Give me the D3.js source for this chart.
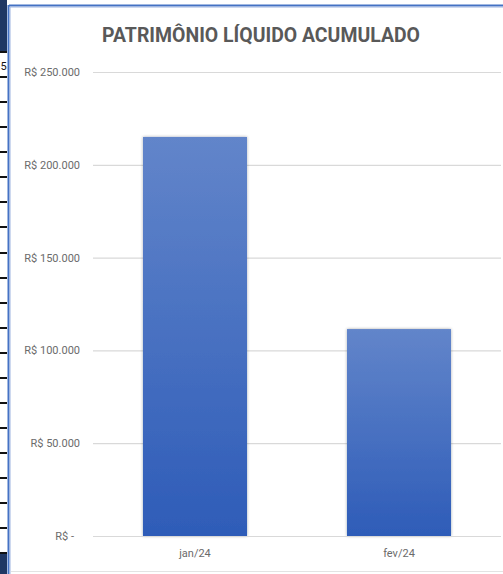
<!DOCTYPE html>
<html>
<head>
<meta charset="utf-8">
<script src="https://cdn.jsdelivr.net/npm/d3@7"></script>
<style>
  body { margin: 0; background: #fff; }
  svg { display: block; font-family: Roboto, "Open Sans", sans-serif; }
</style>
</head>
<body>
<div id="chart"></div>
<script>
  // data
  var months = ["jan/24", "fev/24"]
  var patrimonio = [215000, 111500]
  var tickValues = [0, 50000, 100000, 150000, 200000, 250000]
  var tickLabels = ["R$ -", "R$ 50.000", "R$ 100.000", "R$ 150.000", "R$ 200.000", "R$ 250.000"]
  var title = "PATRIMÔNIO LÍQUIDO ACUMULADO"

  var W = 503, H = 574

  var svg = d3.select("#chart").append("svg")
      .attr("width", W)
      .attr("height", H)

  var defs = svg.append("defs")

  var grad = defs.append("linearGradient")
      .attr("id", "barGrad")
      .attr("x1", 0).attr("y1", 0).attr("x2", 0).attr("y2", 1)
  grad.append("stop").attr("offset", "0%").attr("stop-color", "#6285ca")
  grad.append("stop").attr("offset", "100%").attr("stop-color", "#2e5cb8")

  var shadow = defs.append("filter")
      .attr("id", "shadow")
      .attr("x", "-20%").attr("y", "-10%").attr("width", "140%").attr("height", "120%")
  shadow.append("feDropShadow")
      .attr("dx", 0).attr("dy", 0)
      .attr("stdDeviation", 1.6)
      .attr("flood-color", "#000")
      .attr("flood-opacity", 0.35)

  // spreadsheet bits peeking out on the left
  svg.append("rect").attr("x", 0).attr("y", 0).attr("width", 7).attr("height", 51).attr("fill", "#1f3763")
  svg.append("rect").attr("x", 0).attr("y", 51).attr("width", 7).attr("height", 2).attr("fill", "#111")
  svg.append("text").attr("x", 0.5).attr("y", 70).attr("font-size", 11).attr("fill", "#111").text("5")
  var rowLines = d3.range(77, 540, 25.08)
  svg.selectAll(".rowline")
      .data(rowLines)
    .enter().append("rect")
      .attr("class", "rowline")
      .attr("x", 0).attr("width", 7)
      .attr("y", function(d) { return Math.round(d) - 1 })
      .attr("height", 2)
      .attr("fill", "#111")
  svg.append("rect").attr("x", 0).attr("y", 553).attr("width", 7).attr("height", 21).attr("fill", "#1f3763")
  svg.append("rect").attr("x", 0).attr("y", 552).attr("width", 7).attr("height", 2).attr("fill", "#111")

  // chart area with the blue selection border
  svg.append("rect").attr("x", 10).attr("y", 7).attr("width", W - 10).attr("height", H - 7).attr("fill", "#fff")
  svg.append("line").attr("x1", 9).attr("x2", W).attr("y1", 5.5).attr("y2", 5.5)
      .attr("stroke", "#4472c4").attr("stroke-width", 2)
  svg.append("line").attr("x1", 10).attr("x2", W).attr("y1", 7).attr("y2", 7)
      .attr("stroke", "#9db4e0").attr("stroke-width", 1)
  svg.append("line").attr("x1", 8.5).attr("x2", 8.5).attr("y1", 5).attr("y2", H)
      .attr("stroke", "#4472c4").attr("stroke-width", 2)
  svg.append("line").attr("x1", 10).attr("x2", 10).attr("y1", 7).attr("y2", H)
      .attr("stroke", "#9db4e0").attr("stroke-width", 1)
  svg.append("line").attr("x1", 11).attr("x2", W).attr("y1", 571.5).attr("y2", 571.5)
      .attr("stroke", "#e3e3e3").attr("stroke-width", 1)

  // title
  svg.append("text")
      .attr("x", 102).attr("y", 42)
      .attr("font-size", 19.5)
      .attr("font-weight", "bold")
      .attr("fill", "#595959")
      .attr("textLength", 318)
      .attr("lengthAdjust", "spacingAndGlyphs")
      .text(title)

  // scales
  var xScale = d3.scaleBand()
      .domain(months)
      .range([93, 501])
      .paddingInner(0.49)
      .paddingOuter(0.245)

  var yScale = d3.scaleLinear()
      .domain([0, 250000])
      .range([536, 72])

  // gridlines
  svg.append("g")
      .attr("class", "grid")
      .attr("transform", "translate(93,0)")
      .call(d3.axisLeft(yScale).tickValues(tickValues).tickSize(-408).tickFormat(""))
      .call(function(g) { g.select(".domain").remove() })
      .call(function(g) { g.selectAll("line").attr("stroke", "#d9d9d9").attr("stroke-width", 1.2) })

  // y labels
  var yAxis = d3.axisLeft(yScale)
      .tickValues(tickValues)
      .tickSize(0)
      .tickPadding(0)
      .tickFormat(function(d, i) { return tickLabels[i] })

  svg.append("g")
      .attr("class", "y axis")
      .attr("transform", "translate(80,0)")
      .call(yAxis)
      .call(function(g) { g.select(".domain").remove() })
      .call(function(g) {
        g.selectAll("text")
          .attr("font-family", "Roboto, sans-serif")
          .attr("font-size", 11)
          .attr("fill", "#6b6b6b")
          .attr("dx", function(d) { return d === 0 ? -6 : 0 })
      })

  // bars
  svg.selectAll(".bar")
      .data(patrimonio)
    .enter().append("rect")
      .attr("class", "bar")
      .attr("x", function(d, i) { return xScale(months[i]) })
      .attr("width", xScale.bandwidth())
      .attr("y", function(d) { return yScale(d) })
      .attr("height", function(d) { return yScale(0) - yScale(d) })
      .attr("fill", "url(#barGrad)")
      .attr("filter", "url(#shadow)")

  // baseline
  svg.append("line")
      .attr("x1", 93).attr("x2", 501)
      .attr("y1", yScale(0) + 0.5).attr("y2", yScale(0) + 0.5)
      .attr("stroke", "#d9d9d9").attr("stroke-width", 1.2)

  // x labels
  var xAxis = d3.axisBottom(xScale).tickSize(0).tickPadding(0)
  svg.append("g")
      .attr("class", "x axis")
      .attr("transform", "translate(0,549)")
      .call(xAxis)
      .call(function(g) { g.select(".domain").remove() })
      .call(function(g) {
        g.selectAll("text")
          .attr("font-family", "Roboto, sans-serif")
          .attr("font-size", 11)
          .attr("fill", "#6b6b6b")
      })
</script>
</body>
</html>
